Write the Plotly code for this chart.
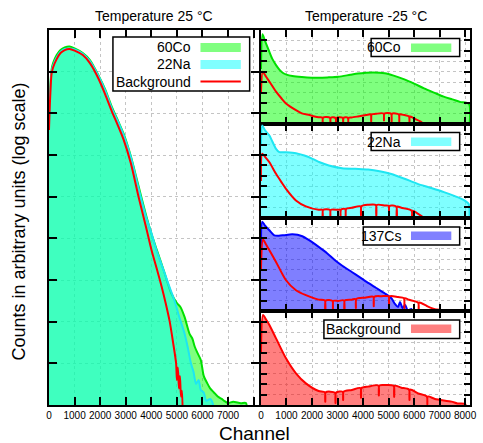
import plotly.graph_objects as go

# ---------------- 25 °C spectra (left panel) ----------------
co60_25_ch = [0, 40, 100, 160, 300, 450, 615, 800, 1000, 1320, 1600, 1960, 2200, 2460, 2700,
              2920, 3200, 3500, 3800, 4010, 4200, 4500, 4780, 5000, 5150, 5300, 5500, 5600,
              5700, 5800, 5935, 6050, 6190, 6300, 6450, 6600, 6750, 6850, 7000, 7200, 7500,
              7700, 7750]
co60_25_cnt = [6.3e6, 3.2e7, 1.12e8, 1.6e8, 2.5e8, 3.3e8, 3.8e8, 4.0e8, 3.6e8, 2.8e8, 1.9e8,
               7.6e7, 3.7e7, 1.4e7, 6.6e6, 3.2e6, 9.3e5, 1.8e5, 3.5e4, 1.26e4, 5.6e3, 1.6e3,
               480, 280, 220, 130, 50, 40, 25, 18, 12, 5.0, 3.3, 2.5, 2.0, 1.6, 1.4, 1.26,
               1.12, 1.2, 1.1, 1.12, 0.5]

na22_25_ch = [0, 40, 100, 160, 300, 450, 615, 800, 1000, 1320, 1600, 1960, 2200, 2460, 2700,
              2920, 3200, 3500, 3800, 4010, 4200, 4500, 4700, 4900, 5100, 5300, 5420, 5550,
              5650, 5750, 5850, 5935, 6050, 6150, 6300, 6400, 6450]
na22_25_cnt = [5.0e6, 2.5e7, 1.0e8, 1.4e8, 2.2e8, 3.0e8, 3.5e8, 3.6e8, 3.4e8, 2.7e8, 1.8e8,
               7.4e7, 3.5e7, 1.3e7, 6.3e6, 3.0e6, 8.9e5, 1.6e5, 3.2e4, 1.3e4, 5.2e3, 1.6e3,
               710, 330, 126, 52, 25, 10, 6.3, 3.2, 4.0, 2.3, 2.0, 1.26, 1.4, 1.1, 0.5]

bg_25_ch = [0, 40, 100, 160, 300, 450, 615, 800, 1000, 1320, 1600, 1960, 2200, 2460, 2700,
            2920, 3200, 3500, 3800, 4010, 4200, 4400, 4560, 4720, 4850, 4970, 5000, 5040,
            5080, 5120, 5160, 5200, 5230]
bg_25_cnt = [4.0e6, 2.0e7, 8.9e7, 1.26e8, 2.0e8, 2.8e8, 3.3e8, 3.5e8, 3.2e8, 2.5e8, 1.6e8,
             6.3e7, 2.8e7, 1.1e7, 5.0e6, 2.3e6, 6.3e5, 1.0e5, 1.8e4, 5.2e3, 2.0e3, 710, 280,
             100, 32, 10, 4.0, 7.9, 2.5, 5.0, 1.6, 2.2, 0.5]

# ---------------- -25 °C spectra (right panels) ----------------
co60_m25_ch = [0, 60, 150, 330, 450, 590, 720, 850, 1000, 1230, 1600, 2000, 2260, 2600, 3030,
               3500, 3800, 4120, 4400, 4850, 5200, 5620, 6000, 6390, 6800, 7160, 7500, 7800,
               8150, 8170]
co60_m25_cnt = [1.8e5, 4.0e8, 1.0e8, 7.9e6, 1.6e6, 4.3e5, 1.6e5, 7.9e4, 5.2e4, 3.8e4, 3.0e4,
                2.6e4, 2.6e4, 2.8e4, 3.2e4, 5.0e4, 6.6e4, 7.9e4, 8.5e4, 7.1e4, 4.2e4, 1.8e4,
                7.1e3, 2.5e3, 930, 400, 220, 126, 79, 0.5]
bg_co60_ch = [0, 70, 200, 330, 590, 800, 980, 1370, 1600, 1900, 2100, 2260, 2400, 2420, 2440,
              2700, 2720, 2740, 2920, 2940, 2960, 3200, 3220, 3240, 3400, 3420, 3440, 3550,
              3800, 4120, 4300, 4320, 4340, 4500, 4800, 4820, 4840, 5100, 5120, 5140, 5400,
              5420, 5440, 5620, 5800, 5820, 5840, 6000, 6260, 6500]
bg_co60_cnt = [1.0e3, 1.0e5, 3.2e4, 1.1e4, 1.2e3, 280, 89, 20, 10, 6.8, 5.0, 4.2, 4.0, 0.3, 4.0,
               3.8, 1.0, 3.8, 3.6, 0.3, 3.6, 3.7, 1.0, 3.7, 3.8, 0.3, 3.8, 4.0, 5.0, 6.8, 7.9,
               1.6, 7.9, 8.9, 9.8, 2.0, 9.8, 9.3, 1.3, 9.3, 7.9, 1.6, 7.9, 6.8, 5.0, 1.0, 5.0,
               3.2, 1.6, 0.5]

na22_m25_ch = [0, 50, 150, 330, 590, 720, 980, 1370, 1700, 2020, 2300, 2660, 3180, 3700, 4200,
               4700, 5110, 5600, 6140, 6600, 7170, 7600, 7940, 8140, 8170]
na22_m25_cnt = [1.0e7, 6.8e8, 2.5e8, 7.4e7, 3.9e6, 1.9e6, 1.8e6, 1.5e6, 8.9e5, 4.3e5, 2.0e5,
                9.8e4, 5.4e4, 4.7e4, 4.1e4, 2.6e4, 1.5e4, 5.6e3, 1.7e3, 760, 270, 112, 50, 20,
                0.5]
bg_na22_ch = [0, 50, 200, 330, 590, 800, 980, 1370, 1760, 2260, 2400, 2420, 2440, 2700, 2720,
              2740, 3030, 3100, 3120, 3140, 3300, 3320, 3340, 3560, 3900, 3920, 3940, 4200,
              4500, 4520, 4540, 4860, 5000, 5020, 5040, 5300, 5320, 5340, 5500, 5900, 5920,
              5940, 6160, 6550]
bg_na22_cnt = [3.2e3, 1.3e6, 5.0e5, 2.0e5, 1.55e4, 2.5e3, 560, 43, 11.5, 5.5, 5.5, 0.3, 5.5,
               5.4, 1.0, 5.4, 5.5, 5.8, 0.3, 5.8, 6.6, 1.3, 6.6, 8.5, 12, 1.6, 12, 16.6, 16,
               1.3, 16, 14, 13, 2.0, 13, 11, 0.3, 11, 8.5, 4.5, 0.5, 4.5, 2.2, 0.5]

cs137_m25_ch = [0, 50, 150, 330, 520, 700, 900, 1230, 1620, 1900, 2260, 2600, 2900, 3200, 3560,
                3850, 4140, 4500, 4860, 5120, 5250, 5370, 5450, 5550, 5650, 5750, 5900, 5950]
cs137_m25_cnt = [1.0e6, 4.0e8, 1.8e8, 5.9e7, 1.95e7, 1.8e7, 2.0e7, 2.45e7, 1.6e7, 6.3e6, 1.5e6,
                 3.5e5, 7.8e4, 2.2e4, 5.9e3, 2.0e3, 650, 180, 50, 16.6, 5.0, 2.6, 7.9, 2.0, 4.0,
                 1.26, 1.6, 0.5]
bg_cs137_ch = [0, 80, 200, 330, 590, 980, 1370, 1760, 2260, 2500, 2520, 2540, 2800, 2820, 2840,
               3030, 3250, 3270, 3290, 3560, 3700, 3720, 3740, 4080, 4400, 4420, 4440, 4730,
               5000, 5020, 5040, 5370, 5600, 5620, 5640, 5800, 6160, 6180, 6200, 6500, 6820,
               7000, 7100]
bg_cs137_cnt = [1.0e4, 7.6e6, 2.5e6, 7.1e5, 5.4e4, 950, 105, 35, 13, 11, 0.5, 11, 10, 1.5, 10,
                9.8, 11, 0.5, 11, 13, 15, 2.0, 15, 20, 25, 3.0, 25, 28, 27, 4.0, 27, 23, 18, 2.0,
                18, 12.6, 6.8, 1.0, 6.8, 3.2, 1.55, 1.26, 0.5]

bg_m25_ch = [0, 80, 200, 330, 590, 980, 1370, 1760, 2260, 2500, 2520, 2540, 2900, 2920, 2940,
             3200, 3220, 3240, 3560, 3900, 3920, 3940, 4200, 4600, 4620, 4640, 4860, 5200,
             5220, 5240, 5500, 5800, 5820, 5840, 6160, 6500, 6520, 6540, 6820, 7470, 7700,
             8000, 8050]
bg_m25_cnt = [1.0e5, 4.4e8, 1.6e8, 4.8e7, 2.5e6, 3.0e4, 1.1e3, 120, 22, 17, 2.0, 17, 15, 1.5,
              15, 19, 3.0, 19, 28, 42, 5.0, 42, 58, 75, 8.0, 75, 83, 70, 6.0, 70, 46, 30, 3.0,
              30, 13, 6.5, 1.2, 6.5, 3.8, 2.1, 1.4, 1.26, 0.5]

tick_channels = [0, 1000, 2000, 3000, 4000, 5000, 6000, 7000, 8000]
left_tick_labels = ["0", "1000", "2000", "3000", "4000", "5000", "6000", "7000", ""]
right_tick_labels = ["0", "1000", "2000", "3000", "4000", "5000", "6000", "7000", "8000"]

# ---------------- page geometry ----------------
W, H = 483, 443
ML, MR, MT, MB = 49, 6, 30, 38
PW, PH = W - ML - MR, H - MT - MB


def px(x):
    return (x - ML) / PW


def py(y):
    return 1 - (y - MT) / PH


FONT = "Liberation Sans, Arial, Helvetica, sans-serif"

GREEN_LINE, GREEN_FILL = "#00e000", "rgba(0,255,0,0.5)"
CYAN_LINE, CYAN_FILL = "#1ee6f2", "rgba(0,255,255,0.5)"
BLUE_LINE, BLUE_FILL = "#0000ff", "rgba(0,0,255,0.5)"
RED_LINE, RED_FILL = "#ff0000", "rgba(255,0,0,0.5)"

fig = go.Figure()


def area(xs, ys, line, fill, xa, ya):
    fig.add_trace(go.Scatter(x=xs, y=ys, mode="lines", fill="tozeroy", fillcolor=fill,
                             line=dict(color=line, width=2, shape="spline", smoothing=0.7),
                             xaxis=xa, yaxis=ya, showlegend=False, hoverinfo="skip"))


def curve(xs, ys, line, xa, ya):
    fig.add_trace(go.Scatter(x=xs, y=ys, mode="lines",
                             line=dict(color=line, width=2, shape="spline", smoothing=0.7),
                             xaxis=xa, yaxis=ya, showlegend=False, hoverinfo="skip"))


# left panel: 25 °C
area(co60_25_ch, co60_25_cnt, GREEN_LINE, GREEN_FILL, "x", "y")
area(na22_25_ch, na22_25_cnt, CYAN_LINE, CYAN_FILL, "x", "y")
curve(bg_25_ch, bg_25_cnt, RED_LINE, "x", "y")

# right panels: -25 °C
area(co60_m25_ch, co60_m25_cnt, GREEN_LINE, GREEN_FILL, "x2", "y2")
curve(bg_co60_ch, bg_co60_cnt, RED_LINE, "x2", "y2")
area(na22_m25_ch, na22_m25_cnt, CYAN_LINE, CYAN_FILL, "x3", "y3")
curve(bg_na22_ch, bg_na22_cnt, RED_LINE, "x3", "y3")
area(cs137_m25_ch, cs137_m25_cnt, BLUE_LINE, BLUE_FILL, "x4", "y4")
curve(bg_cs137_ch, bg_cs137_cnt, RED_LINE, "x4", "y4")
area(bg_m25_ch, bg_m25_cnt, RED_LINE, RED_FILL, "x5", "y5")

common_x = dict(range=[0, 8192], tickvals=tick_channels, ticks="inside", ticklen=8,
                tickwidth=1.5, tickcolor="black", showline=True, linewidth=2,
                linecolor="black", mirror="ticks", showgrid=True, gridcolor="#c4c4c4",
                griddash="dot", gridwidth=1, zeroline=False,
                tickfont=dict(family=FONT, size=10, color="black"))
common_y = dict(type="log", range=[0, 9], dtick=1, ticks="inside", tickwidth=1.5,
                tickcolor="black", showline=True, linewidth=2, linecolor="black",
                mirror="ticks", showgrid=True, gridcolor="#c4c4c4", griddash="dot",
                gridwidth=1, zeroline=False, showticklabels=False)

left_dom = [0, px(262)]
right_dom = [px(264.5), 1]
layout = dict(
    width=W, height=H,
    margin=dict(l=ML, r=MR, t=MT, b=MB, pad=0),
    paper_bgcolor="white", plot_bgcolor="white",
    font=dict(family=FONT, color="black"),
    xaxis=dict(common_x, domain=left_dom, anchor="y", ticktext=left_tick_labels),
    yaxis=dict(common_y, domain=[0, 1], anchor="x", ticklen=8),
)
for i, (lo, hi) in enumerate([(0.75, 1.0), (0.5, 0.75), (0.25, 0.5), (0.0, 0.25)], start=2):
    layout[f"xaxis{i}"] = dict(common_x, domain=right_dom, anchor=f"y{i}",
                               ticktext=right_tick_labels, ticklen=7,
                               showticklabels=(i == 5))
    layout[f"yaxis{i}"] = dict(common_y, domain=[lo, hi], anchor=f"x{i}", ticklen=6)
fig.update_layout(**layout)

shapes = []
annotations = []


def label(text, x, y, size, anchor="center", angle=0):
    annotations.append(dict(text=text, x=px(x), y=py(y), xref="paper", yref="paper",
                            xanchor=anchor, yanchor="middle", showarrow=False,
                            textangle=angle, font=dict(family=FONT, size=size, color="black")))


def box(x0, y0, x1, y1):
    shapes.append(dict(type="rect", xref="paper", yref="paper", x0=px(x0), x1=px(x1),
                       y0=py(y1), y1=py(y0), fillcolor="white",
                       line=dict(color="black", width=1.5), layer="above"))


def swatch(x0, y0, x1, y1, color):
    shapes.append(dict(type="rect", xref="paper", yref="paper", x0=px(x0), x1=px(x1),
                       y0=py(y1), y1=py(y0), fillcolor=color, line=dict(width=0),
                       layer="above"))


def line_swatch(x0, x1, y, color):
    shapes.append(dict(type="line", xref="paper", yref="paper", x0=px(x0), x1=px(x1),
                       y0=py(y), y1=py(y), line=dict(color=color, width=2), layer="above"))


# left panel key
box(114, 37, 253, 91)
label("60Co", 195, 47.5, 14, "right")
swatch(203, 43, 244, 52, "#80ff80")
label("22Na", 195, 64.5, 14, "right")
swatch(203, 60, 244, 69, "#80ffff")
label("Background", 195, 81.5, 14, "right")
line_swatch(203, 244, 81.5, RED_LINE)

# right panel keys
box(376.5, 38.5, 466.5, 56.5)
label("60Co", 409, 47.5, 14, "right")
swatch(417, 43.5, 458, 52, "#80ff80")

box(376.5, 132.5, 466.5, 150.5)
label("22Na", 409, 141.5, 14, "right")
swatch(417, 137.5, 458, 146, "#80ffff")

box(368.5, 227, 466.5, 245)
label("137Cs", 409, 236, 14, "right")
swatch(417, 231.5, 458, 240, "#8080ff")

box(328.5, 320, 466.5, 338.5)
label("Background", 409, 329, 14, "right")
swatch(417, 324.5, 458, 333, "#ff8080")

# titles
label("Temperature 25 °C", 156, 16, 14)
label("Temperature -25 °C", 371, 16, 14)
label("Channel", 257.5, 433, 19)
label("Counts in arbitrary units (log scale)", 18, 222, 18, angle=-90)

fig.update_layout(shapes=shapes, annotations=annotations)

fig.write_html("out.html")
